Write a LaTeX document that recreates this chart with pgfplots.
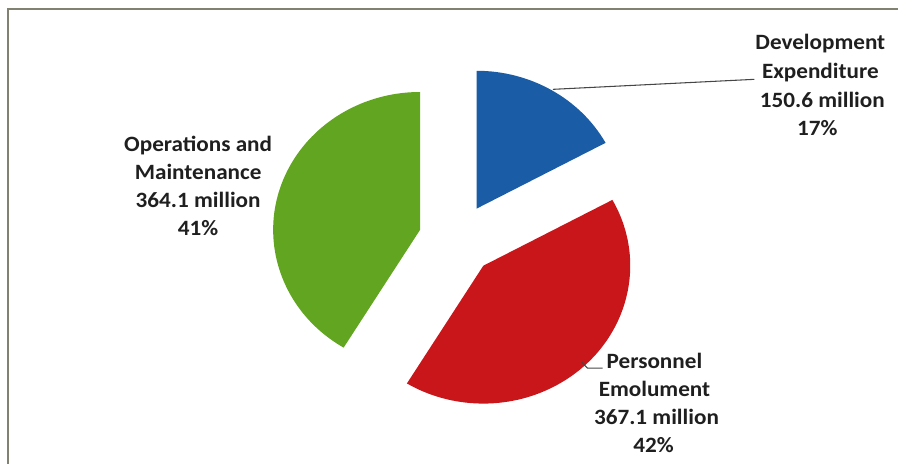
\documentclass[border=0pt]{standalone}
\usepackage{fontspec}
\setmainfont{Carlito}[FakeStretch=1.06]
\usepackage{pgfplots}
\pgfplotsset{compat=1.18}
\definecolor{devblue}{RGB}{26,92,166}
\definecolor{perred}{RGB}{200,22,27}
\definecolor{opgreen}{RGB}{98,165,32}
\definecolor{framec}{RGB}{130,130,115}
\definecolor{leader}{RGB}{70,70,70}
% data (million)
\def\valDev{150.6}
\def\valPer{367.1}
\def\valOp{364.1}
\begin{document}
\begin{tikzpicture}
\pgfmathsetmacro\tot{\valDev+\valPer+\valOp}
\pgfmathsetmacro\aA{90}
\pgfmathsetmacro\aB{\aA-360*(\valDev/\tot)}
\pgfmathsetmacro\aC{\aB-360*(\valPer/\tot)}
\pgfmathsetmacro\aD{\aC-360*(\valOp/\tot)}
% pie centre and explosion (axis units = pixels)
\def\cx{457.3}\def\cy{224.5}\def\ex{1.065}\def\dd{36}
\pgfmathsetmacro\mA{(\aA+\aB)/2}
\pgfmathsetmacro\mB{(\aB+\aC)/2}
\pgfmathsetmacro\mC{(\aC+\aD)/2}
\pgfmathsetmacro\pAx{\cx+\ex*\dd*cos(\mA)}\pgfmathsetmacro\pAy{\cy+\dd*sin(\mA)}
\pgfmathsetmacro\pBx{\cx+\ex*\dd*cos(\mB)}\pgfmathsetmacro\pBy{\cy+\dd*sin(\mB)}
\pgfmathsetmacro\pCx{\cx+\ex*\dd*cos(\mC)}\pgfmathsetmacro\pCy{\cy+\dd*sin(\mC)}
\def\rx{110.25pt}\def\ry{103.5pt}
\begin{axis}[scale only axis, width=674.25pt, height=348pt,
  xmin=0, xmax=899, ymin=0, ymax=464, axis line style={draw=none}, ticks=none, clip=false]
\fill[devblue] (axis cs:\pAx,\pAy) -- ++({cos(\aA)*\rx},{sin(\aA)*\ry})
  arc[start angle=\aA, end angle=\aB, x radius=\rx, y radius=\ry] -- cycle;
\fill[perred] (axis cs:\pBx,\pBy) -- ++({cos(\aB)*\rx},{sin(\aB)*\ry})
  arc[start angle=\aB, end angle=\aC, x radius=\rx, y radius=\ry] -- cycle;
\fill[opgreen] (axis cs:\pCx,\pCy) -- ++({cos(\aC)*\rx},{sin(\aC)*\ry})
  arc[start angle=\aC, end angle=\aD, x radius=\rx, y radius=\ry] -- cycle;
% frame
\draw[framec, line width=1.1pt] (axis cs:8,0) -- (axis cs:8,455) -- (axis cs:899,455);
% leader lines
\draw[leader, line width=0.8pt] (axis cs:553.3,374.7) -- (axis cs:755,384.7);
\draw[leader, line width=0.8pt] (axis cs:582,102) -- (axis cs:588,96) -- (axis cs:603,96);
% labels
\begin{scope}[every node/.style={anchor=base, inner sep=0pt, font=\fontsize{16.4}{19}\selectfont\bfseries, text=black!88}]
\node at (axis cs:821,414.7) {Development};
\node at (axis cs:821,386) {Expenditure};
\node at (axis cs:823,356.7) {150.6 million};
\node at (axis cs:818,328.5) {17\%};
\node at (axis cs:198.3,312.3) {Operations and};
\node at (axis cs:198.3,284.7) {Maintenance};
\node at (axis cs:198.3,256.7) {364.1 million};
\node at (axis cs:198.3,229) {41\%};
\node at (axis cs:655,95.7) {Personnel};
\node at (axis cs:655,68) {Emolument};
\node at (axis cs:657,40) {367.1 million};
\node at (axis cs:654,11.3) {42\%};
\end{scope}
\end{axis}
\end{tikzpicture}
\end{document}
